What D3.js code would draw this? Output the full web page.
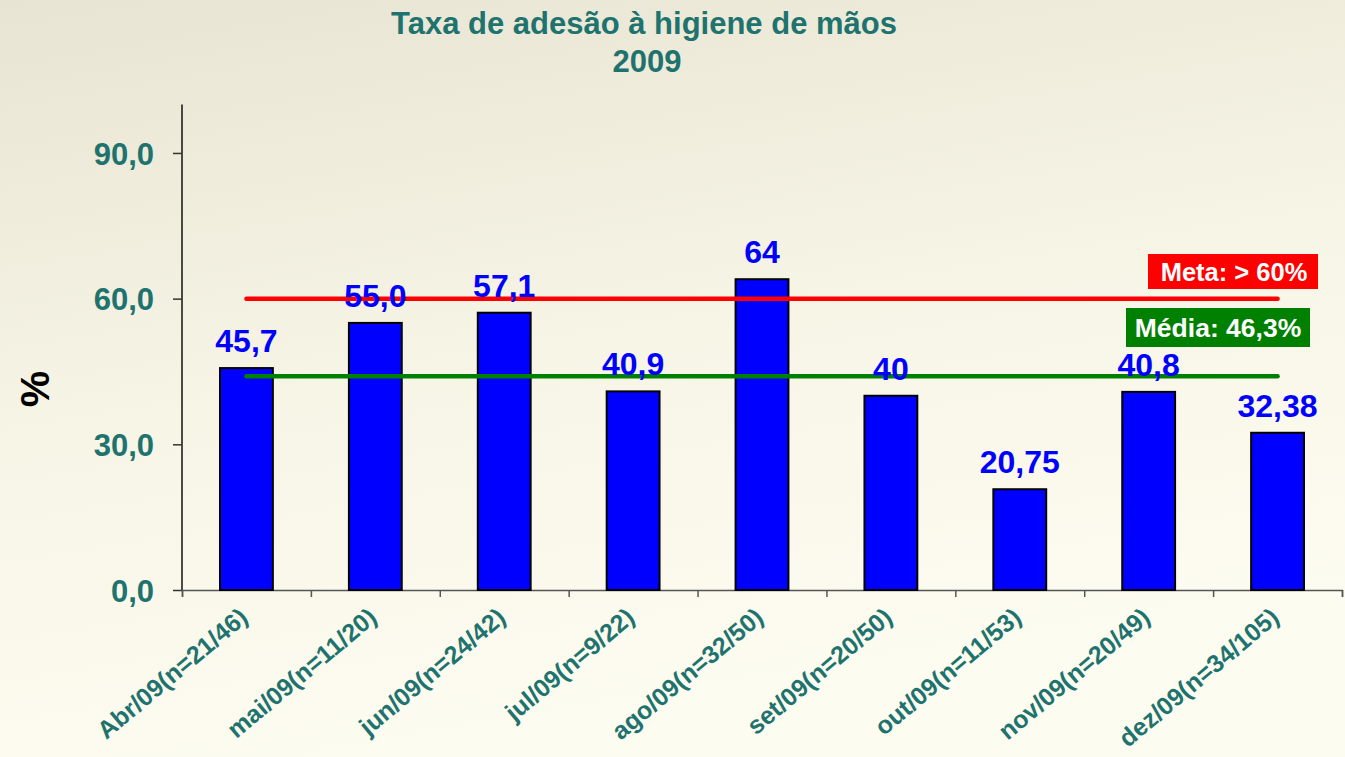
<!DOCTYPE html>
<html>
<head>
<meta charset="utf-8">
<script src="https://cdn.jsdelivr.net/npm/d3@7"></script>
<style>
  html, body { margin: 0; padding: 0; }
  body { width: 1345px; height: 757px; overflow: hidden; }
  text { font-family: "Liberation Sans", Arial, sans-serif; font-weight: bold; }
</style>
</head>
<body>
<div id="chart"></div>
<script>
// Chart data
const months = ["Abr/09(n=21/46)", "mai/09(n=11/20)", "jun/09(n=24/42)", "jul/09(n=9/22)",
    "ago/09(n=32/50)", "set/09(n=20/50)", "out/09(n=11/53)", "nov/09(n=20/49)", "dez/09(n=34/105)"];
const rates = [45.7, 55.0, 57.1, 40.9, 64, 40, 20.75, 40.8, 32.38];
const rateLabels = ["45,7", "55,0", "57,1", "40,9", "64", "40", "20,75", "40,8", "32,38"];
const yTicks = [0, 30, 60, 90];
const yTickLabels = ["0,0", "30,0", "60,0", "90,0"];
const goalValue = 60;
const goalLabel = "Meta: > 60%";
const meanValue = 44;
const meanLabel = "Média: 46,3%";

const width = 1345;
const height = 757;
const teal = "#1f736e";

const svg = d3.select("#chart")
    .append("svg")
    .attr("width", width)
    .attr("height", height);

// Background gradient
const defs = svg.append("defs");
const grad = defs.append("linearGradient")
    .attr("id", "bg")
    .attr("x1", "0").attr("y1", "0")
    .attr("x2", "0.3").attr("y2", "1");
grad.append("stop").attr("offset", "0%").attr("stop-color", "#e8e4d3");
grad.append("stop").attr("offset", "55%").attr("stop-color", "#f7f5e6");
grad.append("stop").attr("offset", "100%").attr("stop-color", "#fdfcf1");
svg.append("rect")
    .attr("width", width)
    .attr("height", height)
    .attr("fill", "url(#bg)");

// Scales
const x = d3.scaleBand()
    .domain(months)
    .range([182, 1342]);
const xEdge = d3.scaleLinear()
    .domain([0, months.length])
    .range([182, 1342]);
const y = d3.scaleLinear()
    .domain([0, 100])
    .range([590, 104.4]);

const barWidth = x.bandwidth() * 0.41;
const cx = d => x(d) + x.bandwidth() / 2;

// Title
svg.append("text")
    .attr("x", 644)
    .attr("y", 34)
    .attr("text-anchor", "middle")
    .attr("fill", teal)
    .style("font-size", "31px")
    .text("Taxa de adesão à higiene de mãos");
svg.append("text")
    .attr("x", 647)
    .attr("y", 72)
    .attr("text-anchor", "middle")
    .attr("fill", teal)
    .style("font-size", "31px")
    .text("2009");

// Y axis
const yAxis = svg.append("g")
    .attr("transform", "translate(182,0)")
    .call(d3.axisLeft(y).tickValues(yTicks).tickSize(9).tickFormat((d, i) => yTickLabels[i]));
yAxis.select(".domain").attr("stroke", "#111").attr("stroke-width", 1.5).attr("d", `M0,${y(100)}V${y(0)}`);
yAxis.selectAll(".tick line").attr("stroke", "#333").attr("stroke-width", 1.5);
yAxis.selectAll(".tick text")
    .attr("x", -28)
    .attr("dy", "0.36em")
    .attr("fill", teal)
    .style("font-size", "31px")
    .style("font-family", "'Liberation Sans', Arial, sans-serif")
    .style("font-weight", "bold");

svg.append("text")
    .attr("transform", "translate(49,389) rotate(-90)")
    .attr("text-anchor", "middle")
    .attr("fill", "#000")
    .style("font-size", "41px")
    .text("%");

// X axis (ticks at category boundaries)
const xAxis = svg.append("g")
    .attr("transform", `translate(0,${y(0)})`)
    .call(d3.axisBottom(xEdge).tickValues(d3.range(months.length + 1)).tickSize(7).tickFormat(""));
xAxis.select(".domain").attr("stroke", "#555").attr("stroke-width", 1.5);
xAxis.selectAll(".tick line").attr("stroke", "#555").attr("stroke-width", 1.5);

svg.append("g")
    .selectAll("text")
    .data(months)
    .join("text")
    .attr("transform", d => `translate(${cx(d) + 3},620) rotate(-40)`)
    .attr("text-anchor", "end")
    .attr("fill", teal)
    .style("font-size", "25px")
    .text(d => d);

// Bars
svg.append("g")
    .selectAll("rect")
    .data(months)
    .join("rect")
    .attr("x", d => cx(d) - barWidth / 2)
    .attr("y", (d, i) => y(rates[i]))
    .attr("width", barWidth)
    .attr("height", (d, i) => y(0) - y(rates[i]))
    .attr("fill", "#0000ff")
    .attr("stroke", "#000")
    .attr("stroke-width", 2);

// Reference lines
const lineX1 = cx(months[0]);
const lineX2 = cx(months[months.length - 1]);
svg.append("line")
    .attr("x1", lineX1).attr("x2", lineX2)
    .attr("y1", y(goalValue)).attr("y2", y(goalValue))
    .attr("stroke", "#ff0000")
    .attr("stroke-width", 4.5)
    .attr("stroke-linecap", "round");
svg.append("line")
    .attr("x1", lineX1).attr("x2", lineX2)
    .attr("y1", y(meanValue)).attr("y2", y(meanValue))
    .attr("stroke", "#008000")
    .attr("stroke-width", 4.5)
    .attr("stroke-linecap", "round");

// Value labels
svg.append("g")
    .selectAll("text")
    .data(months)
    .join("text")
    .attr("x", d => cx(d))
    .attr("y", (d, i) => y(rates[i]) - 16)
    .attr("text-anchor", "middle")
    .attr("fill", "#0000ff")
    .style("font-size", "32px")
    .text((d, i) => rateLabels[i]);

// Line labels
const goalBox = svg.append("g");
goalBox.append("rect")
    .attr("x", 1148).attr("y", 254)
    .attr("width", 170).attr("height", 35)
    .attr("fill", "#ff0000");
goalBox.append("text")
    .attr("x", 1234).attr("y", 281)
    .attr("text-anchor", "middle")
    .attr("fill", "#fff")
    .style("font-size", "25.5px")
    .text(goalLabel);

const meanBox = svg.append("g");
meanBox.append("rect")
    .attr("x", 1126).attr("y", 308)
    .attr("width", 184).attr("height", 39)
    .attr("fill", "#008000");
meanBox.append("text")
    .attr("x", 1218).attr("y", 337)
    .attr("text-anchor", "middle")
    .attr("fill", "#fff")
    .style("font-size", "26.5px")
    .text(meanLabel);
</script>
</body>
</html>
